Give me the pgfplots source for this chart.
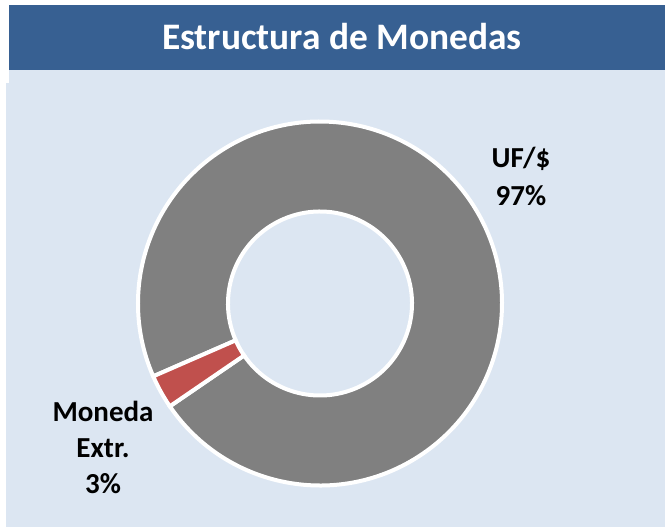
\documentclass[border=0pt]{standalone}
\usepackage{pgfplots}
\pgfplotsset{compat=1.18}
\usepackage{pgfplotstable}
\usepackage{fontspec}
\setmainfont{Carlito}
\definecolor{titlebar}{HTML}{376092}
\definecolor{bgblue}{HTML}{DCE6F2}
\definecolor{slicegray}{HTML}{808080}
\definecolor{slicered}{HTML}{C0504D}
\pgfplotstableread{
label value
UF 97
Ext 3
}\datatable
\begin{document}
\begin{tikzpicture}
\begin{axis}[hide axis, x=0.5pt, y=0.5pt, xmin=0, xmax=665, ymin=0, ymax=527, clip=false, scale only axis]
\fill[white] (axis cs:0,0) rectangle (axis cs:665,527);
\fill[bgblue] (axis cs:6,0) rectangle (axis cs:665,444);
\fill[bgblue] (axis cs:9,444) rectangle (axis cs:665,457);
\fill[titlebar] (axis cs:9,457) rectangle (axis cs:665,522);
\node[white, font=\bfseries\fontsize{18.7}{22}\selectfont, anchor=base] at (axis cs:342,478) {Estructura de Monedas};
% slices
\pgfplotstablegetelem{0}{value}\of\datatable
\pgfmathsetmacro{\va}{\pgfplotsretval}
\pgfplotstablegetelem{1}{value}\of\datatable
\pgfmathsetmacro{\vb}{\pgfplotsretval}
\pgfmathsetmacro{\tot}{\va+\vb}
\pgfmathsetmacro{\sA}{-145.6}
\pgfmathsetmacro{\eA}{\sA+\va/\tot*360}
\pgfmathsetmacro{\eB}{\eA+\vb/\tot*360}
\filldraw[fill=slicegray, draw=white, line width=2pt, line join=miter]
  (axis cs:320,223.5) ++(\sA:91pt) arc[start angle=\sA, end angle=\eA, radius=91pt]
  -- ([shift={(\eA:46pt)}]axis cs:320,223.5) arc[start angle=\eA, end angle=\sA, radius=46pt] -- cycle;
\filldraw[fill=slicered, draw=white, line width=2pt, line join=miter]
  (axis cs:320,223.5) ++(\eA:91pt) arc[start angle=\eA, end angle=\eB, radius=91pt]
  -- ([shift={(\eB:46pt)}]axis cs:320,223.5) arc[start angle=\eB, end angle=\eA, radius=46pt] -- cycle;
\begin{scope}[every node/.style={font=\bfseries\fontsize{14.5}{17}\selectfont, anchor=base}]
\node at (axis cs:521,360) {UF/\$};
\node at (axis cs:521,322) {97\%};
\node at (axis cs:103,106) {Moneda};
\node at (axis cs:103,70) {Extr.};
\node at (axis cs:103,34) {3\%};
\end{scope}
\end{axis}
\end{tikzpicture}
\end{document}
